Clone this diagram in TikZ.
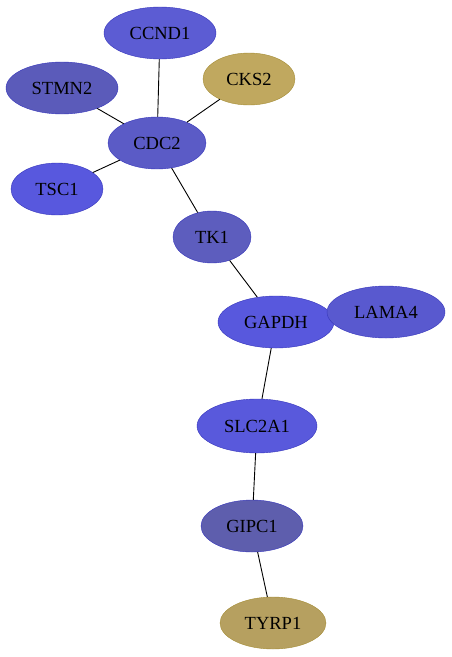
\documentclass[tikz,border=0pt]{standalone}
\usepackage{fontspec}
\setmainfont{Liberation Serif}
\usetikzlibrary{shapes.geometric}
\definecolor{edgeblue}{HTML}{3535BB}
\definecolor{edgegold}{HTML}{A48C34}
\definecolor{ccndcol}{HTML}{5C5CD3}
\definecolor{stmncol}{HTML}{5B5BBA}
\definecolor{ckscol}{HTML}{C0A85F}
\definecolor{cdccol}{HTML}{5B5BC6}
\definecolor{tsccol}{HTML}{5858DE}
\definecolor{tkcol}{HTML}{5D5DBE}
\definecolor{lamacol}{HTML}{5959CF}
\definecolor{gapdhcol}{HTML}{5858DD}
\definecolor{slccol}{HTML}{5959DC}
\definecolor{gipccol}{HTML}{5E5EAD}
\definecolor{tyrpcol}{HTML}{B6A060}
\tikzset{
  gene/.style={ellipse, draw=edgeblue, fill=#1, inner sep=0pt, minimum height=52pt,
    font=\fontsize{18.5}{18.5}\selectfont},
  goldgene/.style={gene=#1, draw=edgegold},
  link/.style={draw=black, line width=0.9pt}
}
\begin{document}
\begin{tikzpicture}[x=1pt, y=-1pt]
            \useasboundingbox (0,0) rectangle (452,657);
            \node[gene=ccndcol, minimum width=112pt] (ccnd1) at (160,33) {CCND1};
            \node[gene=stmncol, minimum width=112pt] (stmn2) at (62,88) {STMN2};
            \node[goldgene=ckscol, minimum width=92pt] (cks2) at (249,79) {CKS2};
            \node[gene=cdccol, minimum width=98pt] (cdc2) at (157,143) {CDC2};
            \node[gene=tsccol, minimum width=92pt] (tsc1) at (57,189) {TSC1};
            \node[gene=tkcol, minimum width=78pt] (tk1) at (212,237) {TK1};
            \node[gene=gapdhcol, minimum width=116pt] (gapdh) at (276,322) {GAPDH};
            \node[gene=lamacol, minimum width=118pt] (lama4) at (386,312) {LAMA4};
            \node[gene=slccol, minimum width=120pt, minimum height=54pt] (slc2a1) at (257,426) {SLC2A1};
            \node[gene=gipccol, minimum width=102pt] (gipc1) at (252,526) {GIPC1};
            \node[goldgene=tyrpcol, minimum width=106pt] (tyrp1) at (273,623) {TYRP1};
            % edges
            \draw[link] (ccnd1) -- (cdc2);
            \draw[link] (stmn2) -- (cdc2);
            \draw[link] (cks2) -- (cdc2);
            \draw[link] (tsc1) -- (cdc2);
            \draw[link] (cdc2) -- (tk1);
            \draw[link] (tk1) -- (gapdh);
            \draw[link] (gapdh) -- (slc2a1);
            \draw[link] (slc2a1) -- (gipc1);
            \draw[link] (gipc1) -- (tyrp1);
        \end{tikzpicture}
\end{document}
